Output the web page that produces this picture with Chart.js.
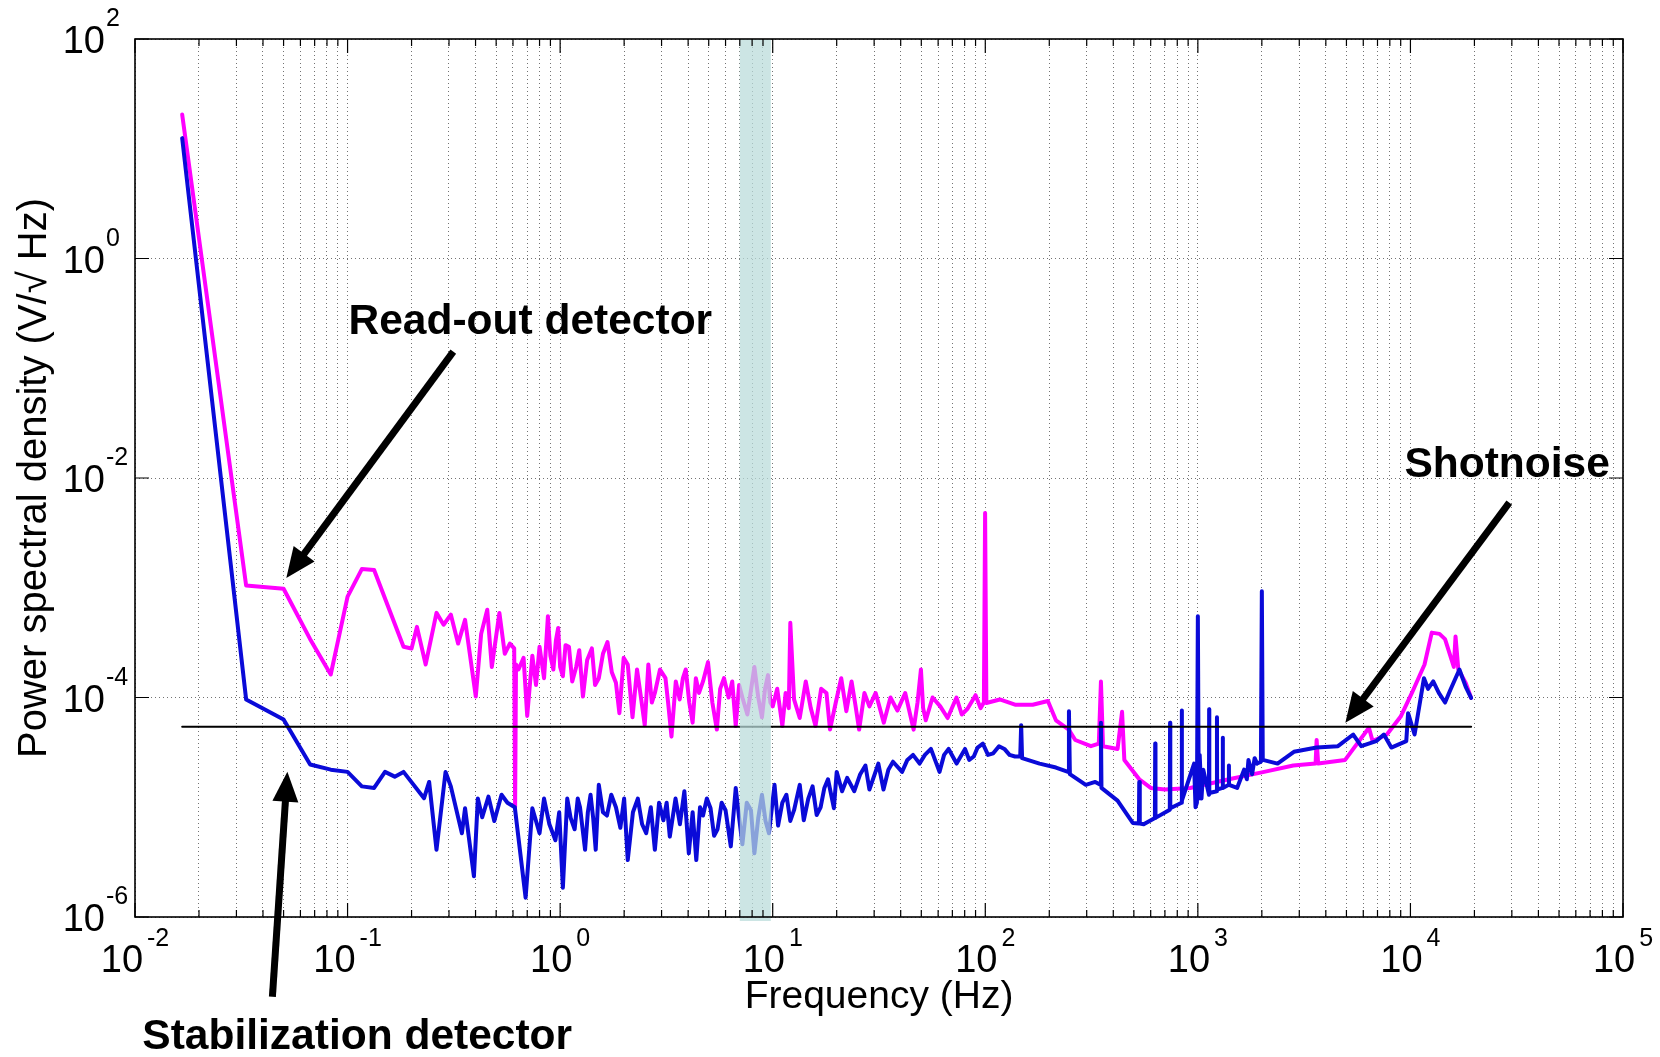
<!DOCTYPE html>
<html>
<head>
<meta charset="utf-8">
<script src="https://cdn.jsdelivr.net/npm/chart.js@4.4.1/dist/chart.umd.min.js"></script>
<style>
  html, body { margin: 0; padding: 0; background: #fff; }
  #wrap { width: 1660px; height: 1057px; }
</style>
</head>
<body>
<div id="wrap"><canvas id="chart" width="1660" height="1057"></canvas></div>
<script>
// read-out detector (magenta), Hz / V per sqrt(Hz)
const readoutFreq = [
  0.01667, 0.03333, 0.05, 0.06667, 0.08333, 0.1, 0.1167, 0.1333, 0.1833, 0.2,
  0.212, 0.233, 0.262, 0.283, 0.306, 0.331, 0.357, 0.401, 0.425, 0.454,
  0.477, 0.518, 0.549, 0.58, 0.608, 0.614, 0.62, 0.637, 0.673, 0.70,
  0.74, 0.77, 0.80, 0.84, 0.876, 0.90, 0.929, 0.955, 0.979, 1.00,
  1.03, 1.06, 1.10, 1.14, 1.19, 1.23, 1.28, 1.34, 1.41, 1.46,
  1.52, 1.59, 1.67, 1.75, 1.83, 1.90, 1.99, 2.08, 2.13, 2.19,
  2.30, 2.40, 2.50, 2.60, 2.70, 2.79, 2.95, 3.13, 3.22, 3.34,
  3.50, 3.65, 3.78, 3.90, 4.05, 4.20, 4.35, 4.50, 4.70, 4.96,
  5.20, 5.46, 5.66, 5.90, 6.20, 6.45, 6.70, 6.95, 7.20, 7.60,
  8.20, 8.55, 8.90, 9.20, 9.50, 9.75, 10.0, 10.5, 11.1, 11.5,
  11.9, 12.1, 12.6, 13.4, 14.3, 15.1, 15.9, 16.9, 17.9, 18.6,
  19.8, 21.0, 22.2, 23.5, 24.5, 25.5, 27.0, 28.5, 30.5, 33.3,
  35.8, 38.6, 42.0, 46.0, 48.0, 49.8, 51.0, 52.5, 56.5, 61.4,
  66.5, 73.2, 77.5, 82.5, 90.0, 95.0, 98.5, 99.8, 101.2, 117,
  138, 167, 197, 215, 247, 265, 314, 342, 350, 358,
  419, 440, 451, 530, 600, 700, 920, 1400, 2050, 2810,
  3580, 3620, 3680, 4930, 6380, 6640, 7750, 9000, 10160, 11650,
  12600, 13700, 14550, 16000, 16300, 16800, 18200, 19300
];
const readoutPsd = [
  20.5, 1.05e-3, 9.8e-4, 3.4e-4, 1.62e-4, 8.3e-4, 1.48e-3, 1.45e-3, 2.9e-4, 2.8e-4,
  4.4e-4, 2.0e-4, 5.9e-4, 4.6e-4, 5.7e-4, 3.1e-4, 5.1e-4, 1.02e-4, 3.8e-4, 6.3e-4,
  1.9e-4, 5.9e-4, 2.5e-4, 3.1e-4, 2.8e-4, 1.0e-5, 2.0e-4, 1.8e-4, 2.3e-4, 6.8e-5,
  2.4e-4, 1.3e-4, 2.9e-4, 1.5e-4, 5.5e-4, 2.4e-4, 1.8e-4, 3.3e-4, 4.3e-4, 1.9e-4,
  1.56e-4, 3.0e-4, 2.9e-4, 1.4e-4, 1.9e-4, 2.7e-4, 1.02e-4, 2.2e-4, 2.8e-4, 1.3e-4,
  1.5e-4, 2.5e-4, 3.2e-4, 1.7e-4, 1.36e-4, 7.2e-5, 2.3e-4, 2.0e-4, 1.2e-4, 6.6e-5,
  1.8e-4, 1.0e-4, 5.6e-5, 2.0e-4, 9.0e-5, 1.1e-4, 1.8e-4, 1.5e-4, 9.0e-5, 4.4e-5,
  1.4e-4, 9.6e-5, 1.5e-4, 1.8e-4, 9.0e-5, 5.9e-5, 1.5e-4, 1.1e-4, 1.4e-4, 2.1e-4,
  9.0e-5, 5.1e-5, 1.2e-4, 1.5e-4, 1.0e-4, 1.4e-4, 5.5e-5, 1.3e-4, 1.0e-4, 7.0e-5,
  1.9e-4, 1.0e-4, 6.6e-5, 1.2e-4, 1.6e-4, 9.0e-5, 8.3e-5, 1.2e-4, 5.5e-5, 1.1e-4,
  8.0e-5, 4.8e-4, 9.6e-5, 6.5e-5, 1.4e-4, 8.0e-5, 5.5e-5, 1.2e-4, 1.1e-4, 5.1e-5,
  9.0e-5, 1.5e-4, 7.5e-5, 1.4e-4, 8.5e-5, 5.1e-5, 1.1e-4, 8.3e-5, 1.1e-4, 5.9e-5,
  1.0e-4, 7.6e-5, 1.1e-4, 5.1e-5, 9.0e-5, 1.8e-4, 8.0e-5, 6.2e-5, 1.0e-4, 8.3e-5,
  6.5e-5, 1.0e-4, 7.0e-5, 7.9e-5, 1.05e-4, 8.0e-5, 9.0e-5, 4.8e-3, 8.9e-5, 9.6e-5,
  8.6e-5, 8.6e-5, 9.3e-5, 6.2e-5, 5.1e-5, 4.1e-5, 3.6e-5, 3.8e-5, 1.4e-4, 3.6e-5,
  3.4e-5, 7.4e-5, 2.7e-5, 1.8e-5, 1.5e-5, 1.45e-5, 1.5e-5, 1.8e-5, 2.1e-5, 2.4e-5,
  2.5e-5, 4.1e-5, 2.5e-5, 2.7e-5, 5.3e-5, 4.0e-5, 4.6e-5, 6.7e-5, 1.1e-4, 2.0e-4,
  3.9e-4, 3.8e-4, 3.4e-4, 1.9e-4, 3.6e-4, 1.8e-4, 1.36e-4, 9.9e-5
];

// stabilization detector (blue)
const stabFreq = [
  0.01667, 0.03333, 0.05, 0.06667, 0.08333, 0.1, 0.1167, 0.1333, 0.15, 0.1667,
  0.1833, 0.229, 0.242, 0.262, 0.289, 0.306, 0.345, 0.357, 0.393, 0.41,
  0.43, 0.46, 0.49, 0.53, 0.565, 0.612, 0.688, 0.74, 0.80, 0.84,
  0.89, 0.95, 0.99, 1.03, 1.08, 1.12, 1.17, 1.21, 1.24, 1.31,
  1.35, 1.39, 1.43, 1.47, 1.52, 1.59, 1.66, 1.74, 1.83, 1.92,
  2.0, 2.08, 2.2, 2.32, 2.43, 2.54, 2.67, 2.79, 2.92, 3.06,
  3.17, 3.28, 3.49, 3.66, 3.84, 4.03, 4.2, 4.37, 4.55, 4.7,
  4.9, 5.1, 5.3, 5.5, 5.75, 6.0, 6.35, 6.7, 6.95, 7.2,
  7.55, 7.9, 8.2, 8.55, 8.9, 9.25, 9.6, 10.2, 10.6, 11.1,
  11.6, 12.1, 12.6, 13.4, 14.0, 14.7, 15.4, 16.1, 16.8, 17.5,
  18.2, 19.4, 20.0, 21.2, 22.4, 24.2, 25.8, 27.3, 28.5, 31.4,
  33.2, 35.0, 36.8, 40.6, 43.0, 45.7, 49.1, 52.0, 55.5, 60.9,
  64.0, 67.2, 73.3, 80.3, 84.0, 88.3, 92.0, 97.4, 103, 109,
  116, 123, 130, 138, 146, 147.5, 149, 180, 215, 245,
  247.5, 250, 297, 329, 348, 350, 352, 419, 494, 528,
  530, 533, 556, 628, 630, 632, 738, 740, 742, 838,
  840, 842, 960, 975, 990, 1000, 1010, 1020, 1040, 1060,
  1128, 1130, 1132, 1228, 1230, 1232, 1308, 1310, 1312, 1398,
  1400, 1402, 1530, 1650, 1700, 1730, 1800, 1850, 1900, 1980,
  2000, 2020, 2370, 2830, 3620, 4560, 5380, 5870, 6900, 7500,
  8130, 9560, 9750, 10460, 11580, 12100, 12800, 13600, 14550, 15350,
  17000, 18200, 19300
];
const stabPsd = [
  12.5, 9.6e-5, 6.3e-5, 2.45e-5, 2.2e-5, 2.1e-5, 1.55e-5, 1.5e-5, 2.1e-5, 1.9e-5,
  2.1e-5, 1.21e-5, 1.7e-5, 4.1e-6, 2.1e-5, 1.55e-5, 5.8e-6, 9.8e-6, 2.35e-6, 1.2e-5,
  8.1e-6, 1.25e-5, 7.5e-6, 1.3e-5, 1.1e-5, 1.0e-5, 1.5e-6, 9.8e-6, 5.8e-6, 1.2e-5,
  7.0e-6, 5.0e-6, 9.0e-6, 1.85e-6, 1.2e-5, 8.0e-6, 6.3e-6, 1.2e-5, 1.0e-5, 4.1e-6,
  9.0e-6, 1.3e-5, 8.0e-6, 4.1e-6, 1.6e-5, 9.0e-6, 8.4e-6, 1.3e-5, 1.0e-5, 6.5e-6,
  1.2e-5, 3.3e-6, 9.0e-6, 1.2e-5, 7.0e-6, 5.8e-6, 1.0e-5, 4.1e-6, 1.1e-5, 7.6e-6,
  1.1e-5, 5.4e-6, 1.2e-5, 7.0e-6, 1.4e-5, 3.8e-6, 9.0e-6, 3.3e-6, 1.0e-5, 8.4e-6,
  1.2e-5, 9.8e-6, 5.5e-6, 6.3e-6, 1.1e-5, 9.4e-6, 4.4e-6, 1.5e-5, 8.0e-6, 4.6e-6,
  1.1e-5, 9.4e-6, 3.8e-6, 8.0e-6, 1.3e-5, 7.5e-6, 5.8e-6, 1.6e-5, 6.8e-6, 1.1e-5,
  1.3e-5, 7.5e-6, 9.4e-6, 1.6e-5, 7.6e-6, 1.2e-5, 1.55e-5, 8.5e-6, 1.0e-5, 1.5e-5,
  1.8e-5, 9.8e-6, 2.1e-5, 1.4e-5, 1.85e-5, 1.4e-5, 2.0e-5, 2.4e-5, 1.45e-5, 2.5e-5,
  1.45e-5, 2.2e-5, 2.6e-5, 2.1e-5, 2.7e-5, 3.0e-5, 2.5e-5, 3.0e-5, 3.4e-5, 2.1e-5,
  3.0e-5, 3.4e-5, 2.5e-5, 3.4e-5, 2.7e-5, 2.9e-5, 3.5e-5, 3.8e-5, 3.0e-5, 3.1e-5,
  3.6e-5, 3.4e-5, 3.0e-5, 2.9e-5, 2.9e-5, 5.6e-5, 2.8e-5, 2.5e-5, 2.3e-5, 2.1e-5,
  7.5e-5, 2.0e-5, 1.6e-5, 1.7e-5, 1.6e-5, 5.9e-5, 1.5e-5, 1.15e-5, 7.2e-6, 7.1e-6,
  1.7e-5, 7.1e-6, 7.0e-6, 8.0e-6, 3.8e-5, 8.0e-6, 9.5e-6, 5.9e-5, 9.8e-6, 1.1e-5,
  7.6e-5, 1.15e-5, 2.5e-5, 1.0e-5, 1.1e-5, 5.5e-4, 1.2e-5, 3.0e-5, 1.2e-5, 2.2e-5,
  1.3e-5, 7.8e-5, 1.35e-5, 1.4e-5, 6.6e-5, 1.45e-5, 1.5e-5, 4.3e-5, 1.5e-5, 1.6e-5,
  2.4e-5, 1.6e-5, 1.5e-5, 2.2e-5, 1.8e-5, 2.7e-5, 2.0e-5, 2.8e-5, 2.5e-5, 2.6e-5,
  9.3e-4, 2.7e-5, 2.5e-5, 3.2e-5, 3.5e-5, 3.6e-5, 4.6e-5, 3.6e-5, 4.0e-5, 4.6e-5,
  3.5e-5, 4.0e-5, 7.2e-5, 4.6e-5, 1.5e-4, 1.2e-4, 1.4e-4, 1.1e-4, 9.0e-5, 1.15e-4,
  1.8e-4, 1.25e-4, 9.9e-5
];

// shot noise level and span, highlighted band (Hz)
const shotNoiseLevel = 5.4e-5;
const shotNoiseSpan = [0.01667, 19300];
const bandRange = [7, 9.8];

// axis decades
const xExps = [-2, -1, 0, 1, 2, 3, 4, 5];
const yExps = [-6, -4, -2, 0, 2];

const FONT = '"Liberation Sans", Arial, Helvetica, sans-serif';
const GRID = 'rgba(0,0,0,0.55)';

// annotations: label centre, arrow tail and tip in data units
const notes = [
  { text: 'Read-out detector', at: [0.724, 0.26], tail: [0.3143, 0.1416], tip: [0.0515, 1.23e-3] },
  { text: 'Stabilization detector', at: [0.111, 8.1e-8], tail: [0.0443, 1.88e-7], tip: [0.0521, 2.11e-5] },
  { text: 'Shotnoise', at: [28500, 0.01294], tail: [29170, 5.96e-3], tip: [4940, 5.89e-5] }
];

function pts(xs, ys) {
  return xs.map((x, i) => ({ x: x, y: ys[i] }));
}

const xTicks = [];
xExps.forEach(e => {
  if (e === xExps[xExps.length - 1]) { xTicks.push(Math.pow(10, e)); return; }
  for (let m = 1; m <= 9; m++) xTicks.push(m * Math.pow(10, e));
});
const yTicks = yExps.map(e => Math.pow(10, e));

function isMajor(v) {
  const l = Math.log10(v);
  return Math.abs(l - Math.round(l)) < 1e-6;
}

function arrow(ctx, p0, p1) {
  const dx = p1.x - p0.x, dy = p1.y - p0.y;
  const len = Math.sqrt(dx * dx + dy * dy);
  const ux = dx / len, uy = dy / len;
  const H = 30, W = 13;
  const bx = p1.x - ux * H, by = p1.y - uy * H;
  ctx.lineWidth = 7;
  ctx.lineCap = 'butt';
  ctx.beginPath();
  ctx.moveTo(p0.x, p0.y);
  ctx.lineTo(bx + ux * 2, by + uy * 2);
  ctx.stroke();
  ctx.beginPath();
  ctx.moveTo(p1.x, p1.y);
  ctx.lineTo(bx - uy * W, by + ux * W);
  ctx.lineTo(bx + uy * W, by - ux * W);
  ctx.closePath();
  ctx.fill();
}

const decor = {
  id: 'decor',
  afterDatasetsDraw(chart) {
    const { ctx, chartArea: a, scales: { x } } = chart;
    const x0 = x.getPixelForValue(bandRange[0]);
    const x1 = x.getPixelForValue(bandRange[1]);
    ctx.save();
    ctx.fillStyle = 'rgba(185,220,218,0.73)';
    ctx.fillRect(x0, a.top, x1 - x0, a.bottom - a.top + 4);
    ctx.restore();
  },
  afterDraw(chart) {
    const { ctx, chartArea: a, scales: { x, y } } = chart;
    ctx.save();
    ctx.strokeStyle = '#000';
    ctx.fillStyle = '#000';

    // inner tick marks
    ctx.lineWidth = 1.2;
    x.ticks.forEach(t => {
      const px = x.getPixelForValue(t.value);
      const L = isMajor(t.value) ? 14 : 7;
      ctx.beginPath();
      ctx.moveTo(px, a.bottom); ctx.lineTo(px, a.bottom - L);
      ctx.moveTo(px, a.top); ctx.lineTo(px, a.top + L);
      ctx.stroke();
    });
    y.ticks.forEach(t => {
      const py = y.getPixelForValue(t.value);
      ctx.beginPath();
      ctx.moveTo(a.left, py); ctx.lineTo(a.left + 14, py);
      ctx.moveTo(a.right, py); ctx.lineTo(a.right - 14, py);
      ctx.stroke();
    });

    // box
    ctx.lineWidth = 1.6;
    ctx.strokeRect(a.left, a.top, a.right - a.left, a.bottom - a.top);

    // tick labels 10^n
    ctx.textBaseline = 'alphabetic';
    xExps.forEach(e => {
      const px = x.getPixelForValue(Math.pow(10, e));
      ctx.font = '38px ' + FONT;
      const w10 = ctx.measureText('10').width;
      ctx.font = '25px ' + FONT;
      const wE = ctx.measureText(String(e)).width;
      const start = px - (w10 + 4 + wE) / 2;
      ctx.textAlign = 'left';
      ctx.font = '38px ' + FONT;
      ctx.fillText('10', start, a.bottom + 55);
      ctx.font = '25px ' + FONT;
      ctx.fillText(String(e), start + w10 + 4, a.bottom + 29);
    });
    yExps.forEach(e => {
      const py = y.getPixelForValue(Math.pow(10, e));
      ctx.font = '38px ' + FONT;
      ctx.textAlign = 'right';
      ctx.fillText('10', a.left - 30, py + 14);
      ctx.font = '25px ' + FONT;
      ctx.textAlign = 'left';
      ctx.fillText(String(e), a.left - 29, py - 13);
    });

    // annotations
    notes.forEach(n => {
      const p0 = { x: x.getPixelForValue(n.tail[0]), y: y.getPixelForValue(n.tail[1]) };
      const p1 = { x: x.getPixelForValue(n.tip[0]), y: y.getPixelForValue(n.tip[1]) };
      arrow(ctx, p0, p1);
      ctx.font = 'bold 42.5px ' + FONT;
      ctx.textAlign = 'center';
      ctx.textBaseline = 'middle';
      ctx.fillText(n.text, x.getPixelForValue(n.at[0]), y.getPixelForValue(n.at[1]));
      ctx.textBaseline = 'alphabetic';
    });
    ctx.restore();
  }
};

const ctx = document.getElementById('chart');

new Chart(ctx, {
  type: 'scatter',
  data: {
    datasets: [
      {
        label: 'Shotnoise',
        data: shotNoiseSpan.map(f => ({ x: f, y: shotNoiseLevel })),
        borderColor: '#000',
        borderWidth: 2,
        showLine: true,
        pointRadius: 0
      },
      {
        label: 'Stabilization detector',
        data: pts(stabFreq, stabPsd),
        borderColor: '#0a0ad8',
        borderWidth: 4,
        showLine: true,
        pointRadius: 0
      },
      {
        label: 'Read-out detector',
        data: pts(readoutFreq, readoutPsd),
        borderColor: '#ff00ff',
        borderWidth: 4,
        showLine: true,
        pointRadius: 0
      }
    ]
  },
  options: {
    responsive: false,
    animation: false,
    layout: { padding: { top: 39, right: 37, left: 0, bottom: 0 } },
    elements: { line: { tension: 0, borderJoinStyle: 'round', borderCapStyle: 'round' } },
    plugins: {
      legend: { display: false },
      tooltip: { enabled: false }
    },
    scales: {
      x: {
        type: 'logarithmic',
        min: 1e-2,
        max: 1e5,
        afterBuildTicks: s => { s.ticks = xTicks.map(v => ({ value: v })); },
        afterFit: s => { s.height = 140; },
        ticks: { display: false },
        grid: { color: GRID, lineWidth: 1, drawTicks: false },
        border: { display: false, dash: [1, 3] },
        title: {
          display: true,
          text: 'Frequency (Hz)',
          color: '#000',
          font: { family: FONT, size: 39 },
          padding: { top: 0, bottom: 36 }
        }
      },
      y: {
        type: 'logarithmic',
        min: 1e-6,
        max: 1e2,
        afterBuildTicks: s => { s.ticks = yTicks.map(v => ({ value: v })); },
        afterFit: s => { s.width = 135; },
        ticks: { display: false },
        grid: { color: GRID, lineWidth: 1, drawTicks: false },
        border: { display: false, dash: [1, 3] },
        title: {
          display: true,
          text: 'Power spectral density (V/\u221A Hz)',
          color: '#000',
          font: { family: FONT, size: 40 },
          padding: { top: 11, bottom: 0 }
        }
      }
    }
  },
  plugins: [decor]
});
</script>
</body>
</html>
